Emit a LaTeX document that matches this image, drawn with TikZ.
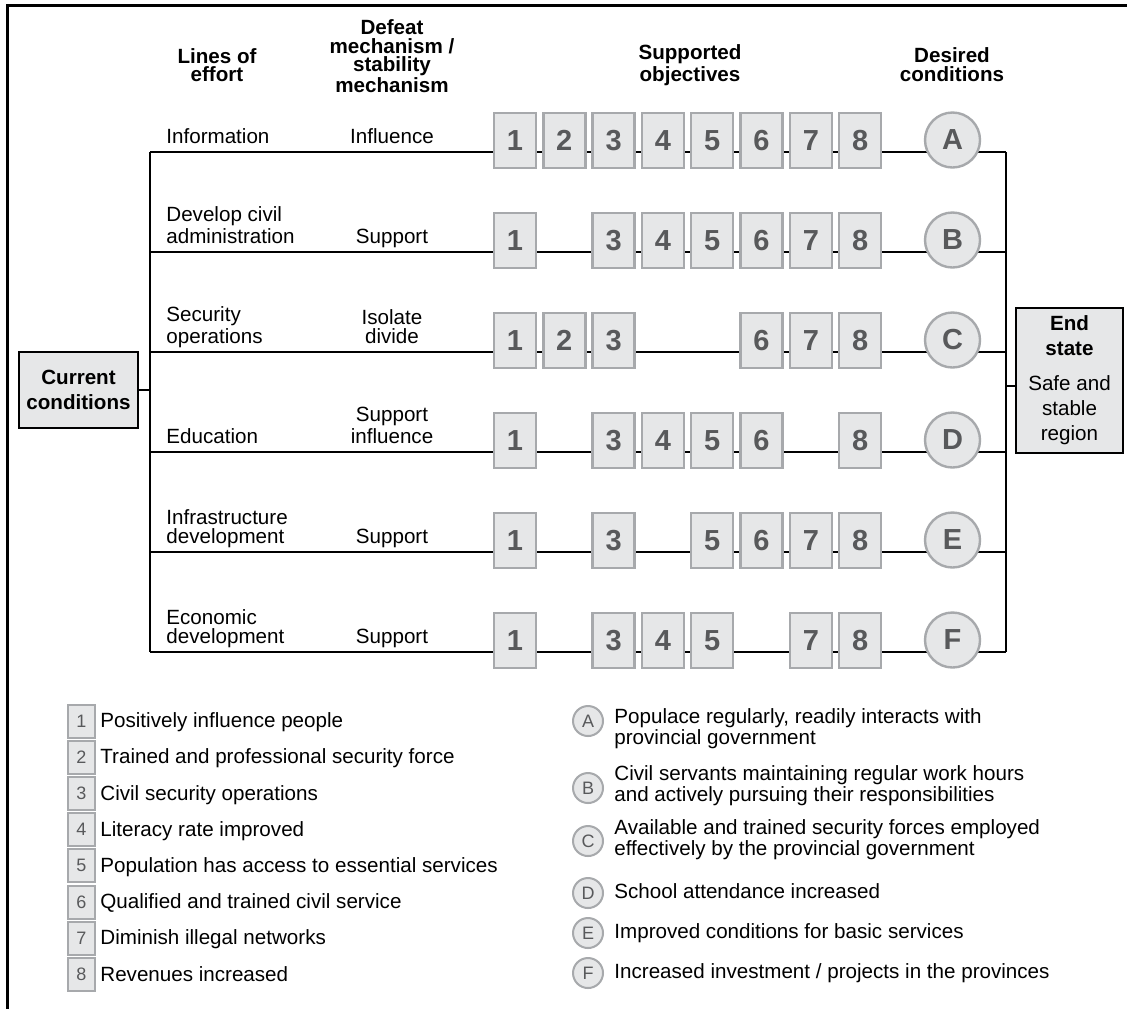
\documentclass[tikz,border=0pt]{standalone}
\usepackage{fontspec}
\setmainfont{Liberation Sans}
\definecolor{boxfill}{HTML}{E6E7E8}
\definecolor{boxline}{HTML}{A7A9AC}
\definecolor{digit}{HTML}{58595B}
\tikzset{
  body/.style={font=\fontsize{10.3}{9.5}\selectfont, inner sep=0pt, text depth=0pt},
  head/.style={font=\bfseries\fontsize{10.3}{9.2}\selectfont, align=center, inner sep=0pt, text depth=0pt, anchor=south},
  objbox/.style={draw=boxline, fill=boxfill, line width=1.2pt, minimum width=21pt,
    minimum height=27.5pt, inner sep=0pt, text=digit, font=\bfseries\fontsize{14.5}{14.5}\selectfont},
  condcirc/.style={circle, draw=boxline, fill=boxfill, line width=1.2pt, minimum size=27.5pt,
    inner sep=0pt, text=digit, font=\bfseries\fontsize{14.5}{14.5}\selectfont},
  keybox/.style={draw=boxline, fill=boxfill, line width=1pt, minimum width=13.5pt,
    minimum height=16.5pt, inner sep=0pt, text=digit, font=\fontsize{9}{9}\selectfont},
  keycirc/.style={circle, draw=boxline, fill=boxfill, line width=1pt, minimum size=15pt,
    inner sep=0pt, text=digit, font=\fontsize{9}{9}\selectfont},
  termbox/.style={draw=black, fill=boxfill, line width=1.2pt, inner sep=0pt, align=center},
  link/.style={line width=1pt, black},
}
\begin{document}
\begin{tikzpicture}[x=0.5pt, y=-0.5pt]
\useasboundingbox (0,0) rectangle (1127,1008);
\clip (0,0) rectangle (1127,1008);
\fill[white] (0,0) rectangle (1127,1008);

% outer frame (runs off the right and bottom edges)
\draw[line width=1.5pt] (7,1020) -- (7,5) -- (1140,5);

% column headings
\node[head] (hloe) at (217,82) {Lines of\\effort};
\node[head] (hmech) at (392,93) {Defeat\\mechanism /\\stability\\mechanism};
\node[head] (hobj) at (690,81.5) {Supported\\objectives};
\node[head] (hcond) at (952,81.5) {Desired\\conditions};

% lines of effort with their objectives and conditions
\foreach \r/\y/\loe/\mech/\set in {
  A/152/{Information}/{Influence}/{1,2,3,4,5,6,7,8},
  B/252/{Develop civil\\administration}/{Support}/{1,3,4,5,6,7,8},
  C/352/{Security\\operations}/{Isolate\\divide}/{1,2,3,6,7,8},
  D/452/{Education}/{Support\\influence}/{1,3,4,5,6,8},
  E/552/{Infrastructure\\development}/{Support}/{1,3,5,6,7,8},
  F/652/{Economic\\development}/{Support}/{1,3,4,5,7,8}}{
  \coordinate (L\r) at (150,\y);
  \coordinate (R\r) at (1006,\y);
  \draw[link] (L\r) -- (R\r);
  \node[body, anchor=south west, align=left] (loe\r) at (166,{\y-8.5}) {\loe};
  \node[body, anchor=south, align=center] (mech\r) at (392,{\y-8.5}) {\mech};
  \foreach \k in \set {
    \node[objbox] (o\r\k) at ({515+49.3*(\k-1)},{\y-11.5}) {\k};
  }
  \node[condcirc] (c\r) at (952.5,{\y-12}) {\r};
}

% trunk lines
\draw[link] (LA) -- (LF);
\draw[link] (RA) -- (RF);

% current conditions and end state
\node[termbox, minimum width=59.5pt, minimum height=38pt,
  font=\bfseries\fontsize{10.3}{12.5}\selectfont] (cur) at (78.5,390) {Current\\conditions};
\draw[link] (cur.east) -- (cur.east -| LA);

\node[termbox, minimum width=53.5pt, minimum height=72.5pt,
  font=\fontsize{10.3}{12.5}\selectfont] (end) at (1069.5,380.5)
  {\textbf{End}\\\textbf{state}\\[5pt]Safe and\\stable\\region};
\coordinate (esin) at (1006,386);
\draw[link] (esin) -- (esin -| end.west);

% key to objectives
\foreach \k/\txt in {
  1/Positively influence people,
  2/Trained and professional security force,
  3/Civil security operations,
  4/Literacy rate improved,
  5/Population has access to essential services,
  6/Qualified and trained civil service,
  7/Diminish illegal networks,
  8/Revenues increased}{
  \node[keybox] (k\k) at (81.5,{721+36.2*(\k-1)}) {\k};
  \node[body, anchor=south west] (kt\k) at (100,{728+36.2*(\k-1)}) {\txt};
}

% key to desired conditions
\foreach \r/\cy/\by/\txt in {
  A/721/745/{Populace regularly, readily interacts with\\provincial government},
  B/788/802/{Civil servants maintaining regular work hours\\and actively pursuing their responsibilities},
  C/841/856/{Available and trained security forces employed\\effectively by the provincial government},
  D/893/899/{School attendance increased},
  E/933/939/{Improved conditions for basic services},
  F/973/979/{Increased investment / projects in the provinces}}{
  \node[keycirc] (kc\r) at (588,\cy) {\r};
  \node[body, anchor=south west, align=left] (kct\r) at (614,\by) {\txt};
}
\end{tikzpicture}
\end{document}
